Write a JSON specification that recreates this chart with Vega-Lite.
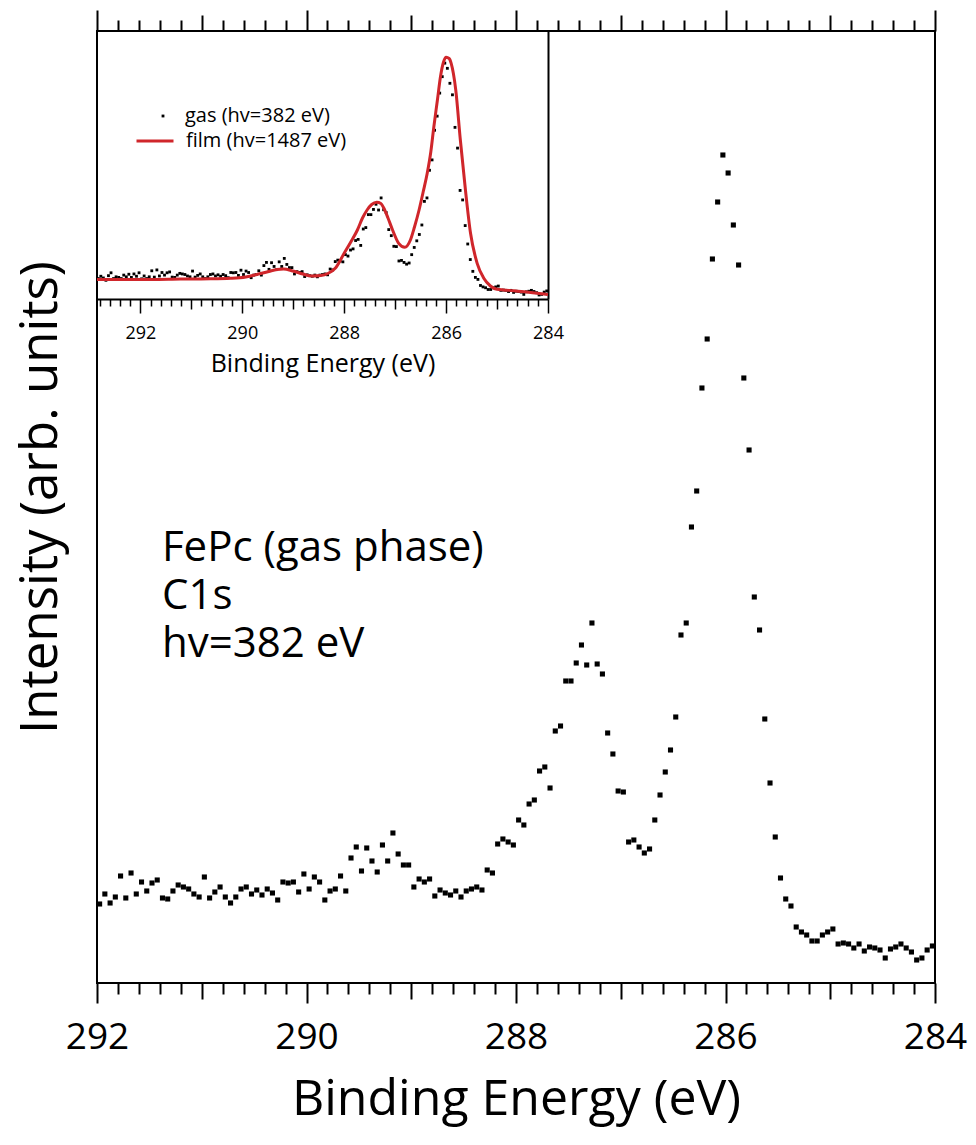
{
  "$schema": "https://vega.github.io/schema/vega-lite/v6.json",
  "width": 838,
  "height": 952,
  "autosize": "none",
  "padding": {"left": 97, "top": 31, "right": 41, "bottom": 162},
  "background": "white",
  "config": {
    "font": "Open Sans",
    "view": {"stroke": "black", "strokeWidth": 2},
    "axis": {"labelFont": "Open Sans", "titleFont": "Open Sans", "labelColor": "black", "titleColor": "black", "tickColor": "black", "domainColor": "black", "grid": false},
    "legend": {"labelFont": "Open Sans", "labelColor": "black", "labelLimit": 400}
  },
  "datasets": {
    "gas": [
      {"e": 292.825, "i": 80}, {"e": 292.775, "i": 88}, {"e": 292.725, "i": 82}, {"e": 292.675, "i": 74},
      {"e": 292.625, "i": 90}, {"e": 292.575, "i": 100}, {"e": 292.525, "i": 80}, {"e": 292.475, "i": 86},
      {"e": 292.425, "i": 84}, {"e": 292.375, "i": 80}, {"e": 292.325, "i": 92}, {"e": 292.275, "i": 86},
      {"e": 292.225, "i": 95}, {"e": 292.175, "i": 84}, {"e": 292.125, "i": 96}, {"e": 292.075, "i": 88},
      {"e": 292.025, "i": 100},
      {"e": 291.975, "i": 79}, {"e": 291.925, "i": 89}, {"e": 291.875, "i": 80}, {"e": 291.825, "i": 86},
      {"e": 291.775, "i": 107}, {"e": 291.725, "i": 85}, {"e": 291.675, "i": 110}, {"e": 291.625, "i": 89},
      {"e": 291.575, "i": 101}, {"e": 291.525, "i": 92}, {"e": 291.475, "i": 100}, {"e": 291.425, "i": 103},
      {"e": 291.375, "i": 85}, {"e": 291.325, "i": 84}, {"e": 291.275, "i": 92}, {"e": 291.225, "i": 98},
      {"e": 291.175, "i": 96}, {"e": 291.125, "i": 94}, {"e": 291.075, "i": 89}, {"e": 291.025, "i": 86},
      {"e": 290.975, "i": 106}, {"e": 290.925, "i": 85}, {"e": 290.875, "i": 91}, {"e": 290.825, "i": 96},
      {"e": 290.775, "i": 86}, {"e": 290.725, "i": 80}, {"e": 290.675, "i": 86}, {"e": 290.625, "i": 94},
      {"e": 290.575, "i": 96}, {"e": 290.525, "i": 89}, {"e": 290.475, "i": 93}, {"e": 290.425, "i": 88},
      {"e": 290.375, "i": 94}, {"e": 290.325, "i": 90}, {"e": 290.275, "i": 83}, {"e": 290.225, "i": 101},
      {"e": 290.175, "i": 100}, {"e": 290.125, "i": 101}, {"e": 290.075, "i": 91}, {"e": 290.025, "i": 109},
      {"e": 289.975, "i": 94}, {"e": 289.925, "i": 106}, {"e": 289.875, "i": 101}, {"e": 289.825, "i": 83},
      {"e": 289.775, "i": 92}, {"e": 289.725, "i": 94}, {"e": 289.675, "i": 107}, {"e": 289.625, "i": 92},
      {"e": 289.575, "i": 125}, {"e": 289.525, "i": 136}, {"e": 289.475, "i": 112}, {"e": 289.425, "i": 135},
      {"e": 289.375, "i": 122}, {"e": 289.325, "i": 111}, {"e": 289.275, "i": 138}, {"e": 289.225, "i": 122},
      {"e": 289.175, "i": 150}, {"e": 289.125, "i": 129}, {"e": 289.075, "i": 118}, {"e": 289.025, "i": 118},
      {"e": 288.975, "i": 96}, {"e": 288.925, "i": 104}, {"e": 288.875, "i": 101}, {"e": 288.825, "i": 104},
      {"e": 288.775, "i": 87}, {"e": 288.725, "i": 93}, {"e": 288.675, "i": 90}, {"e": 288.625, "i": 88},
      {"e": 288.575, "i": 92}, {"e": 288.525, "i": 86}, {"e": 288.475, "i": 92}, {"e": 288.425, "i": 94},
      {"e": 288.375, "i": 96}, {"e": 288.325, "i": 93}, {"e": 288.275, "i": 113}, {"e": 288.225, "i": 110},
      {"e": 288.175, "i": 139}, {"e": 288.125, "i": 144}, {"e": 288.075, "i": 141}, {"e": 288.025, "i": 138},
      {"e": 287.975, "i": 163}, {"e": 287.925, "i": 158}, {"e": 287.875, "i": 179}, {"e": 287.825, "i": 183},
      {"e": 287.775, "i": 212}, {"e": 287.725, "i": 216}, {"e": 287.675, "i": 195}, {"e": 287.625, "i": 252},
      {"e": 287.575, "i": 257}, {"e": 287.525, "i": 302}, {"e": 287.475, "i": 302}, {"e": 287.425, "i": 320},
      {"e": 287.375, "i": 338}, {"e": 287.325, "i": 318}, {"e": 287.275, "i": 360}, {"e": 287.225, "i": 319},
      {"e": 287.175, "i": 309}, {"e": 287.125, "i": 250}, {"e": 287.075, "i": 229}, {"e": 287.025, "i": 192},
      {"e": 286.975, "i": 191}, {"e": 286.925, "i": 141}, {"e": 286.875, "i": 143}, {"e": 286.825, "i": 136},
      {"e": 286.775, "i": 130}, {"e": 286.725, "i": 134}, {"e": 286.675, "i": 163}, {"e": 286.625, "i": 188},
      {"e": 286.575, "i": 211}, {"e": 286.525, "i": 233}, {"e": 286.475, "i": 266}, {"e": 286.425, "i": 348},
      {"e": 286.375, "i": 360}, {"e": 286.325, "i": 456}, {"e": 286.275, "i": 492}, {"e": 286.225, "i": 595},
      {"e": 286.175, "i": 644}, {"e": 286.125, "i": 724}, {"e": 286.075, "i": 781}, {"e": 286.025, "i": 828},
      {"e": 285.975, "i": 810}, {"e": 285.925, "i": 758}, {"e": 285.875, "i": 718}, {"e": 285.825, "i": 605},
      {"e": 285.775, "i": 533}, {"e": 285.725, "i": 386}, {"e": 285.675, "i": 353}, {"e": 285.625, "i": 264},
      {"e": 285.575, "i": 200}, {"e": 285.525, "i": 146}, {"e": 285.475, "i": 105}, {"e": 285.425, "i": 84},
      {"e": 285.375, "i": 77}, {"e": 285.325, "i": 56}, {"e": 285.275, "i": 51}, {"e": 285.225, "i": 48},
      {"e": 285.175, "i": 42}, {"e": 285.125, "i": 42}, {"e": 285.075, "i": 48}, {"e": 285.025, "i": 51},
      {"e": 284.975, "i": 54}, {"e": 284.925, "i": 39}, {"e": 284.875, "i": 40}, {"e": 284.825, "i": 39},
      {"e": 284.775, "i": 35}, {"e": 284.725, "i": 39}, {"e": 284.675, "i": 32}, {"e": 284.625, "i": 36},
      {"e": 284.575, "i": 35}, {"e": 284.525, "i": 33}, {"e": 284.475, "i": 25}, {"e": 284.425, "i": 34},
      {"e": 284.375, "i": 36}, {"e": 284.325, "i": 39}, {"e": 284.275, "i": 35}, {"e": 284.225, "i": 31},
      {"e": 284.175, "i": 23}, {"e": 284.125, "i": 25}, {"e": 284.075, "i": 33}, {"e": 284.025, "i": 37}
    ],
    "film": [
      {"e": 292.85, "i": 19.5}, {"e": 292.38, "i": 19.5}, {"e": 291.79, "i": 19.5}, {"e": 291.21, "i": 20},
      {"e": 290.62, "i": 20.2}, {"e": 290.23, "i": 20.7}, {"e": 289.93, "i": 22}, {"e": 289.68, "i": 25},
      {"e": 289.48, "i": 27.5}, {"e": 289.32, "i": 29.5}, {"e": 289.19, "i": 30}, {"e": 289.01, "i": 28},
      {"e": 288.81, "i": 25}, {"e": 288.64, "i": 23}, {"e": 288.46, "i": 23.5}, {"e": 288.32, "i": 25.5},
      {"e": 288.17, "i": 31}, {"e": 288.0, "i": 45.7}, {"e": 287.87, "i": 57}, {"e": 287.74, "i": 69},
      {"e": 287.64, "i": 81}, {"e": 287.55, "i": 89}, {"e": 287.46, "i": 94.5}, {"e": 287.36, "i": 96.7},
      {"e": 287.28, "i": 95.5}, {"e": 287.22, "i": 90.7}, {"e": 287.14, "i": 81}, {"e": 287.05, "i": 69},
      {"e": 286.93, "i": 55.7}, {"e": 286.81, "i": 51.7}, {"e": 286.7, "i": 59}, {"e": 286.62, "i": 72},
      {"e": 286.53, "i": 89}, {"e": 286.45, "i": 107}, {"e": 286.37, "i": 125.7}, {"e": 286.3, "i": 147},
      {"e": 286.24, "i": 172.3}, {"e": 286.17, "i": 199}, {"e": 286.11, "i": 222.3}, {"e": 286.05, "i": 237},
      {"e": 286.0, "i": 241.7}, {"e": 285.94, "i": 240.5}, {"e": 285.9, "i": 235.7}, {"e": 285.81, "i": 209},
      {"e": 285.72, "i": 159}, {"e": 285.62, "i": 109}, {"e": 285.52, "i": 65.7}, {"e": 285.39, "i": 35.7},
      {"e": 285.26, "i": 20.7}, {"e": 285.13, "i": 13}, {"e": 285.0, "i": 9.7}, {"e": 284.87, "i": 9},
      {"e": 284.67, "i": 8.3}, {"e": 284.38, "i": 6.7}, {"e": 284.08, "i": 5}, {"e": 284.0, "i": 4.5}
    ],
    "note": [
      {"e": 291.38, "i": 422, "note": ["FePc (gas phase)", "C1s", "hv=382 eV"]}
    ]
  },
  "layer": [
    {
      "data": {"name": "gas"},
      "mark": {"type": "point", "shape": "square", "filled": true, "size": 26, "color": "black", "opacity": 1, "clip": true},
      "encoding": {
        "x": {
          "field": "e", "type": "quantitative",
          "scale": {"domain": [284, 292], "reverse": true, "nice": false, "zero": false},
          "axis": {
            "orient": "bottom", "domain": false,
            "values": [284,284.2,284.4,284.6,284.8,285,285.2,285.4,285.6,285.8,286,286.2,286.4,286.6,286.8,287,287.2,287.4,287.6,287.8,288,288.2,288.4,288.6,288.8,289,289.2,289.4,289.6,289.8,290,290.2,290.4,290.6,290.8,291,291.2,291.4,291.6,291.8,292],
            "tickWidth": 2,
            "tickSize": {"condition": [{"test": "abs(datum.value/2 - round(datum.value/2)) < 0.01", "value": 20}, {"test": "abs(datum.value - round(datum.value)) < 0.01", "value": 16}], "value": 11},
            "labelExpr": "abs(datum.value/2 - round(datum.value/2)) < 0.01 ? format(round(datum.value), 'd') : ''",
            "labelFontSize": 37, "labelPadding": 16, "labelFlush": false, "labelOverlap": false, "labelBound": false,
            "title": "Binding Energy (eV)", "titleFontSize": 50, "titleFontWeight": "normal", "titlePadding": 19
          }
        },
        "y": {
          "field": "i", "type": "quantitative",
          "scale": {"domain": [0, 952], "nice": false, "zero": false},
          "axis": {"orient": "left", "domain": false, "ticks": false, "labels": false, "title": "Intensity (arb. units)", "titleFontSize": 51, "titleFontWeight": "normal", "titlePadding": 30, "titleY": 466}
        }
      }
    },
    {
      "data": {"name": "note"},
      "mark": {"type": "text", "align": "left", "baseline": "alphabetic", "fontSize": 42, "lineHeight": 48, "color": "black"},
      "encoding": {
        "x": {
          "field": "e", "type": "quantitative",
          "scale": {"domain": [284, 292], "reverse": true, "nice": false, "zero": false},
          "axis": {
            "orient": "top", "domain": false, "labels": false, "title": null,
            "values": [284,284.2,284.4,284.6,284.8,285,285.2,285.4,285.6,285.8,286,286.2,286.4,286.6,286.8,287,287.2,287.4,287.6,287.8,288,288.2,288.4,288.6,288.8,289,289.2,289.4,289.6,289.8,290,290.2,290.4,290.6,290.8,291,291.2,291.4,291.6,291.8,292],
            "tickWidth": 2,
            "tickSize": {"condition": [{"test": "abs(datum.value/2 - round(datum.value/2)) < 0.01", "value": 21}, {"test": "abs(datum.value - round(datum.value)) < 0.01", "value": 16}], "value": 11}
          }
        },
        "y": {
          "field": "i", "type": "quantitative",
          "scale": {"domain": [0, 952], "nice": false, "zero": false},
          "axis": null
        },
        "text": {"field": "note"}
      }
    },
    {
      "data": {"name": "gas"},
      "mark": {"type": "point", "filled": true, "size": 8, "color": "black", "opacity": 1, "clip": true},
      "encoding": {
        "x": {
          "field": "e", "type": "quantitative",
          "scale": {"domain": [284, 292.85], "range": [451, 0], "nice": false, "zero": false},
          "axis": null
        },
        "y": {
          "field": "i", "type": "quantitative",
          "scale": {"domain": [9, 939.6], "range": [268, 0], "nice": false, "zero": false},
          "axis": null
        },
        "shape": {
          "datum": "gas (hv=382 eV)",
          "scale": {"range": ["square"]},
          "legend": {"orient": "none", "legendX": 56, "legendY": 75, "title": null, "padding": 0, "labelFontSize": 20, "labelOffset": 12, "labelLimit": 400, "symbolSize": 8, "symbolFillColor": "black", "symbolStrokeColor": "black", "symbolStrokeWidth": 0}
        }
      }
    },
    {
      "data": {"name": "film"},
      "mark": {"type": "line", "strokeWidth": 3, "interpolate": "monotone", "clip": true},
      "encoding": {
        "x": {
          "field": "e", "type": "quantitative",
          "scale": {"domain": [284, 292.85], "range": [451, 0], "nice": false, "zero": false},
          "axis": {
            "orient": "bottom", "offset": -684, "domain": true, "domainWidth": 2,
            "values": [284,284.2,284.4,284.6,284.8,285,285.2,285.4,285.6,285.8,286,286.2,286.4,286.6,286.8,287,287.2,287.4,287.6,287.8,288,288.2,288.4,288.6,288.8,289,289.2,289.4,289.6,289.8,290,290.2,290.4,290.6,290.8,291,291.2,291.4,291.6,291.8,292,292.2,292.4,292.6,292.8],
            "tickWidth": 1.5,
            "tickSize": {"condition": [{"test": "abs(datum.value/2 - round(datum.value/2)) < 0.01", "value": 14}, {"test": "abs(datum.value - round(datum.value)) < 0.01", "value": 10}], "value": 7},
            "labelExpr": "abs(datum.value/2 - round(datum.value/2)) < 0.01 ? format(round(datum.value), 'd') : ''",
            "labelFontSize": 18, "labelPadding": 11, "labelFlush": false, "labelOverlap": false, "labelBound": false,
            "title": "Binding Energy (eV)", "titleFontSize": 25, "titleFontWeight": "normal", "titlePadding": 9
          }
        },
        "y": {
          "field": "i", "type": "quantitative",
          "scale": {"domain": [0, 268], "range": [268, 0], "nice": false, "zero": false},
          "axis": {"orient": "right", "offset": -387, "domain": true, "domainWidth": 2, "ticks": false, "labels": false, "title": null}
        },
        "color": {
          "datum": "film (hv=1487 eV)",
          "scale": {"range": ["#d0262b"]},
          "legend": {"orient": "none", "legendX": 38, "legendY": 90, "title": null, "padding": 0, "labelFontSize": 20, "labelOffset": 11, "labelLimit": 400, "symbolType": "stroke", "symbolSize": 1369, "symbolStrokeWidth": 3}
        }
      }
    }
  ],
  "resolve": {"scale": {"x": "independent", "y": "independent"}}
}
